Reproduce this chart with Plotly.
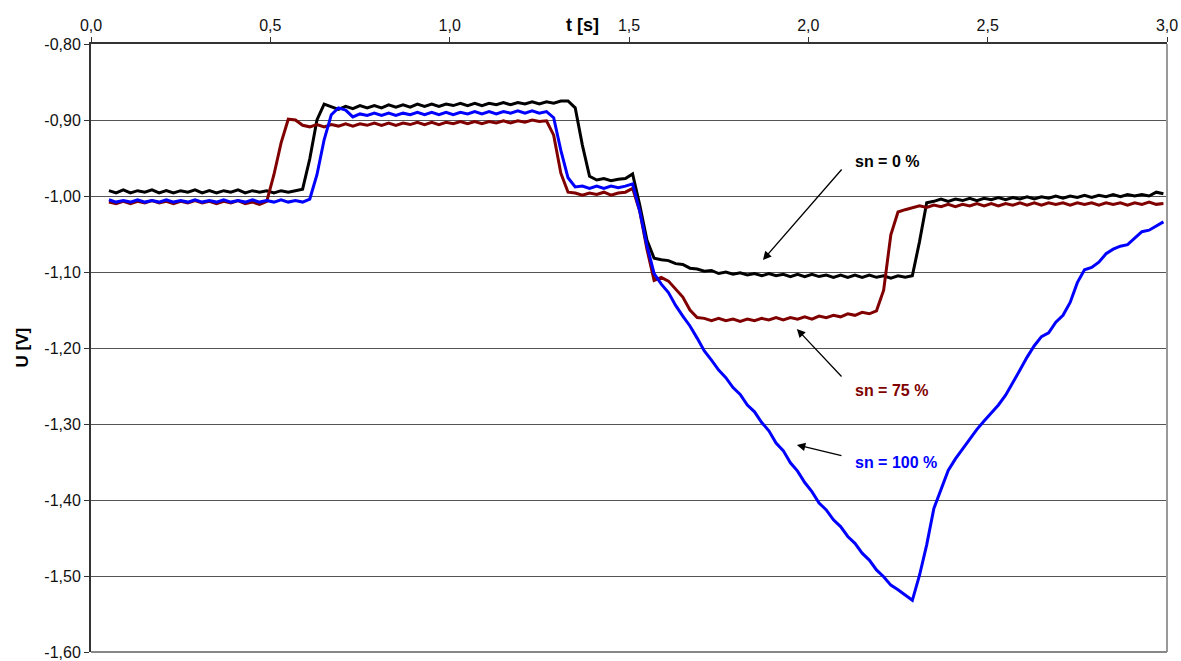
import plotly.graph_objects as go

# time samples [s]
t = [0.05,0.07,0.09,0.11,0.13,0.15,0.17,0.19,0.21,0.23,0.25,0.27,0.29,0.31,0.33,0.35,0.37,0.39,0.41,0.43,
     0.45,0.47,0.49,0.51,0.53,0.55,0.57,0.59,0.61,0.63,0.65,0.67,0.69,0.71,0.73,0.75,0.77,0.79,0.81,0.83,
     0.85,0.87,0.89,0.91,0.93,0.95,0.97,0.99,1.01,1.03,1.05,1.07,1.09,1.11,1.13,1.15,1.17,1.19,1.21,1.23,
     1.25,1.27,1.29,1.31,1.33,1.35,1.37,1.39,1.41,1.43,1.45,1.47,1.49,1.51,1.53,1.55,1.57,1.59,1.61,1.63,
     1.65,1.67,1.69,1.71,1.73,1.75,1.77,1.79,1.81,1.83,1.85,1.87,1.89,1.91,1.93,1.95,1.97,1.99,2.01,2.03,
     2.05,2.07,2.09,2.11,2.13,2.15,2.17,2.19,2.21,2.23,2.25,2.27,2.29,2.31,2.33,2.35,2.37,2.39,2.41,2.43,
     2.45,2.47,2.49,2.51,2.53,2.55,2.57,2.59,2.61,2.63,2.65,2.67,2.69,2.71,2.73,2.75,2.77,2.79,2.81,2.83,
     2.85,2.87,2.89,2.91,2.93,2.95,2.97,2.99]

# sn = 0 %  (black)
u_sn0 = [-0.993,-0.996,-0.992,-0.996,-0.993,-0.995,-0.992,-0.996,-0.993,-0.996,-0.993,-0.995,-0.992,-0.996,-0.993,-0.996,-0.993,-0.995,-0.992,-0.996,
         -0.993,-0.995,-0.993,-0.996,-0.993,-0.995,-0.993,-0.991,-0.951,-0.900,-0.879,-0.883,-0.886,-0.882,-0.885,-0.881,-0.884,-0.881,-0.884,-0.880,
         -0.883,-0.880,-0.883,-0.879,-0.882,-0.879,-0.882,-0.879,-0.881,-0.878,-0.881,-0.878,-0.881,-0.878,-0.880,-0.877,-0.880,-0.877,-0.879,-0.876,
         -0.879,-0.876,-0.878,-0.875,-0.875,-0.884,-0.933,-0.974,-0.979,-0.977,-0.980,-0.978,-0.977,-0.971,-1.012,-1.058,-1.082,-1.084,-1.085,-1.089,
         -1.090,-1.095,-1.096,-1.099,-1.098,-1.102,-1.100,-1.103,-1.101,-1.104,-1.102,-1.105,-1.102,-1.105,-1.103,-1.106,-1.103,-1.106,-1.103,-1.106,
         -1.104,-1.107,-1.104,-1.107,-1.104,-1.107,-1.104,-1.107,-1.105,-1.108,-1.105,-1.107,-1.105,-1.060,-1.009,-1.007,-1.004,-1.007,-1.004,-1.006,
         -1.003,-1.006,-1.003,-1.005,-1.002,-1.005,-1.002,-1.004,-1.001,-1.004,-1.001,-1.003,-1.000,-1.003,-1.000,-1.002,-0.999,-1.002,-0.999,-1.001,
         -0.998,-1.001,-0.998,-1.000,-0.998,-1.000,-0.995,-0.997]

# sn = 75 %  (dark red)
u_sn75 = [-1.008,-1.010,-1.007,-1.010,-1.007,-1.009,-1.006,-1.009,-1.007,-1.010,-1.007,-1.009,-1.006,-1.009,-1.007,-1.010,-1.007,-1.009,-1.006,-1.010,
          -1.008,-1.011,-1.007,-0.972,-0.930,-0.899,-0.900,-0.907,-0.909,-0.906,-0.909,-0.906,-0.908,-0.905,-0.908,-0.905,-0.907,-0.904,-0.907,-0.904,
          -0.907,-0.904,-0.906,-0.903,-0.906,-0.903,-0.906,-0.903,-0.905,-0.902,-0.905,-0.902,-0.905,-0.902,-0.904,-0.901,-0.904,-0.901,-0.903,-0.900,
          -0.902,-0.901,-0.920,-0.970,-0.995,-0.996,-0.999,-0.996,-0.998,-0.995,-0.999,-0.996,-0.995,-0.990,-1.020,-1.070,-1.111,-1.107,-1.112,-1.122,
          -1.133,-1.150,-1.160,-1.161,-1.164,-1.161,-1.164,-1.162,-1.165,-1.162,-1.164,-1.161,-1.163,-1.160,-1.163,-1.160,-1.162,-1.159,-1.162,-1.158,
          -1.160,-1.157,-1.159,-1.155,-1.157,-1.153,-1.155,-1.151,-1.124,-1.051,-1.021,-1.018,-1.016,-1.013,-1.015,-1.012,-1.014,-1.011,-1.014,-1.011,
          -1.013,-1.010,-1.013,-1.010,-1.013,-1.010,-1.012,-1.009,-1.012,-1.009,-1.012,-1.009,-1.011,-1.009,-1.012,-1.009,-1.011,-1.009,-1.012,-1.009,
          -1.011,-1.009,-1.012,-1.009,-1.011,-1.008,-1.011,-1.010]

# sn = 100 %  (blue)
u_sn100 = [-1.005,-1.008,-1.006,-1.008,-1.005,-1.008,-1.006,-1.008,-1.005,-1.008,-1.006,-1.008,-1.005,-1.008,-1.006,-1.008,-1.005,-1.008,-1.006,-1.008,
           -1.005,-1.008,-1.006,-1.008,-1.005,-1.008,-1.006,-1.008,-1.004,-0.972,-0.926,-0.893,-0.884,-0.887,-0.896,-0.892,-0.894,-0.891,-0.894,-0.891,
           -0.894,-0.891,-0.893,-0.890,-0.893,-0.890,-0.893,-0.890,-0.893,-0.890,-0.892,-0.889,-0.892,-0.889,-0.892,-0.889,-0.891,-0.888,-0.891,-0.888,
           -0.891,-0.889,-0.897,-0.940,-0.976,-0.988,-0.987,-0.990,-0.987,-0.990,-0.987,-0.989,-0.987,-0.984,-1.020,-1.065,-1.102,-1.116,-1.127,-1.144,
           -1.158,-1.171,-1.187,-1.204,-1.216,-1.229,-1.239,-1.252,-1.261,-1.275,-1.284,-1.298,-1.309,-1.325,-1.335,-1.351,-1.362,-1.377,-1.389,-1.404,
           -1.413,-1.426,-1.435,-1.448,-1.457,-1.470,-1.479,-1.492,-1.501,-1.512,-1.518,-1.525,-1.532,-1.499,-1.459,-1.411,-1.387,-1.361,-1.346,-1.333,
           -1.320,-1.307,-1.296,-1.285,-1.275,-1.262,-1.246,-1.229,-1.212,-1.197,-1.185,-1.180,-1.166,-1.157,-1.140,-1.114,-1.097,-1.094,-1.087,-1.076,
           -1.070,-1.066,-1.064,-1.056,-1.047,-1.045,-1.040,-1.034]

series_names = ["sn = 0 %", "sn = 75 %", "sn = 100 %"]
series_colors = ["#000000", "#800000", "#0000FF"]

x_tickvals = [0.0, 0.5, 1.0, 1.5, 2.0, 2.5, 3.0]
x_ticktext = ["0,0", "0,5", "1,0", "1,5", "2,0", "2,5", "3,0"]
y_tickvals = [-0.8, -0.9, -1.0, -1.1, -1.2, -1.3, -1.4, -1.5, -1.6]
y_ticktext = ["-0,80", "-0,90", "-1,00", "-1,10", "-1,20", "-1,30", "-1,40", "-1,50", "-1,60"]

FONT = "Liberation Sans, Arial, sans-serif"

fig = go.Figure()
for name, ys, col in zip(series_names, [u_sn0, u_sn75, u_sn100], series_colors):
    fig.add_trace(go.Scatter(x=t, y=ys, mode="lines", name=name,
                             line=dict(color=col, width=3), showlegend=False))

fig.update_layout(
    width=1181, height=661,
    margin=dict(l=91, r=14, t=44, b=9),
    paper_bgcolor="white", plot_bgcolor="white",
    font=dict(family=FONT, size=16, color="#000000"),
    showlegend=False,
)
fig.update_xaxes(
    side="top", range=[0, 3.0], tickvals=x_tickvals, ticktext=x_ticktext,
    showgrid=False, zeroline=False, showline=True, linecolor="#333333", linewidth=2,
    ticks="outside", ticklen=5, tickcolor="#333333", tickwidth=1, automargin=False,
    tickfont=dict(family=FONT, size=16, color="#111111"),
)
fig.update_yaxes(
    range=[-1.6, -0.8], tickvals=y_tickvals, ticktext=y_ticktext,
    showgrid=True, gridcolor="#555555", gridwidth=1, zeroline=False,
    showline=True, linecolor="#333333", linewidth=2, automargin=False,
    ticks="outside", ticklen=5, tickcolor="#333333", tickwidth=1,
    tickfont=dict(family=FONT, size=16, color="#111111"),
)

# right / bottom frame of plot area (gray)
fig.add_shape(type="line", xref="paper", yref="paper", x0=1, x1=1, y0=0, y1=1,
              line=dict(color="#999999", width=2))
fig.add_shape(type="line", xref="paper", yref="paper", x0=0, x1=1, y0=0, y1=0,
              line=dict(color="#888888", width=2))

# axis titles
fig.add_annotation(text="<b>t [s]</b>", xref="paper", yref="paper", x=0.457, y=1.0,
                   yshift=19, showarrow=False, font=dict(family=FONT, size=18, color="#000"),
                   xanchor="center", yanchor="middle")
fig.add_annotation(text="<b>U [V]</b>", xref="paper", yref="paper", x=0, y=0.501,
                   xshift=-69, showarrow=False, textangle=-90,
                   font=dict(family=FONT, size=17, color="#000"),
                   xanchor="center", yanchor="middle")

# labels with arrows
label_pos = [(2.124, -0.954), (2.124, -1.2553), (2.124, -1.350)]
arrow_tail = [(2.0965, -0.9632), (2.0965, -1.2395), (2.0965, -1.3421)]
arrow_head = [(1.8734, -1.0842), (1.968, -1.175), (1.968, -1.3276)]
for name, col, (lx, ly), (tx, ty), (hx, hy) in zip(series_names, series_colors, label_pos, arrow_tail, arrow_head):
    fig.add_annotation(x=hx, y=hy, ax=tx, ay=ty, xref="x", yref="y", axref="x", ayref="y",
                       text="", showarrow=True, arrowhead=2, arrowsize=1.3, arrowwidth=1.3,
                       arrowcolor="#000000")
    fig.add_annotation(x=lx, y=ly, xref="x", yref="y", text="<b>" + name + "</b>",
                       showarrow=False, xanchor="left", yanchor="middle",
                       font=dict(family=FONT, size=16, color=col))

fig.write_html("out.html")
